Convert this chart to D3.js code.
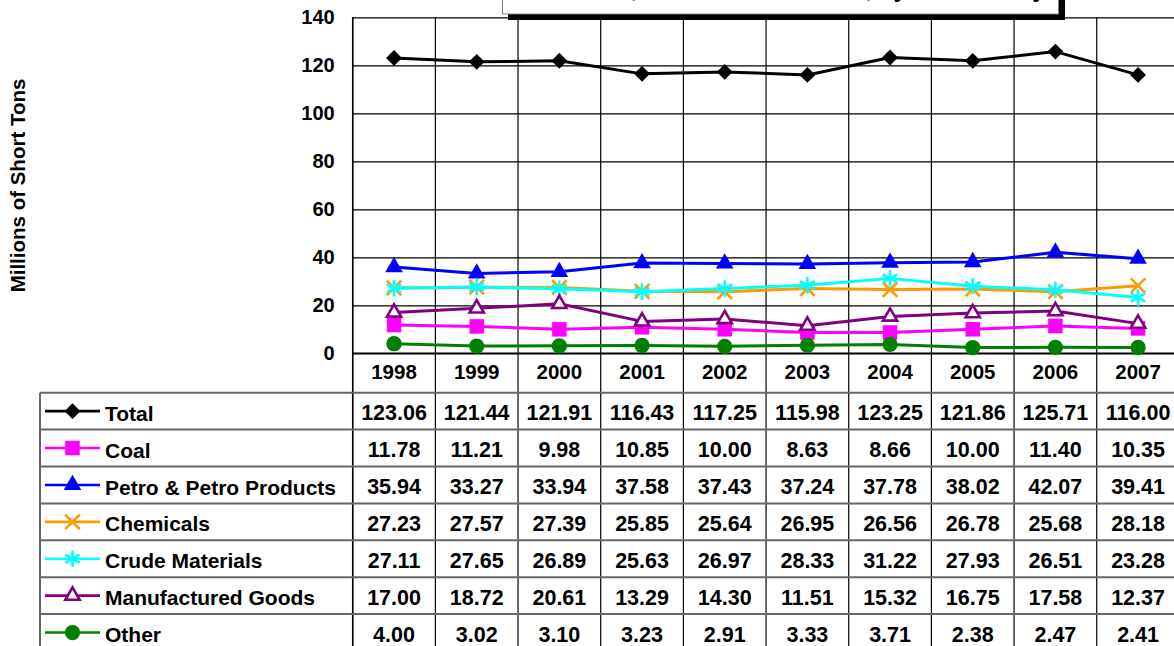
<!DOCTYPE html>
<html>
<head>
<meta charset="utf-8">
<script src="https://cdn.jsdelivr.net/npm/d3@7"></script>
<style>
  html, body { margin: 0; padding: 0; background: #fff; overflow: hidden; }
  svg { display: block; font-family: Arial, "Liberation Sans", sans-serif; font-weight: bold; }
</style>
</head>
<body>
<svg id="chart" width="1174" height="646"></svg>
<script>
// ---------------- data ----------------
const years = ["1998","1999","2000","2001","2002","2003","2004","2005","2006","2007"];
const yTicks = [0, 20, 40, 60, 80, 100, 120, 140];
const seriesNames = ["Total","Coal","Petro & Petro Products","Chemicals","Crude Materials","Manufactured Goods","Other"];
const totalVals    = [123.06,121.44,121.91,116.43,117.25,115.98,123.25,121.86,125.71,116.00];
const coalVals     = [11.78,11.21,9.98,10.85,10.00,8.63,8.66,10.00,11.40,10.35];
const petroVals    = [35.94,33.27,33.94,37.58,37.43,37.24,37.78,38.02,42.07,39.41];
const chemVals     = [27.23,27.57,27.39,25.85,25.64,26.95,26.56,26.78,25.68,28.18];
const crudeVals    = [27.11,27.65,26.89,25.63,26.97,28.33,31.22,27.93,26.51,23.28];
const manufVals    = [17.00,18.72,20.61,13.29,14.30,11.51,15.32,16.75,17.58,12.37];
const otherVals    = [4.00,3.02,3.10,3.23,2.91,3.33,3.71,2.38,2.47,2.41];
const titleText = "Total Tons, 1998 to 2007 Traffic, by Commodity";
const yLabel = "Millions of Short Tons";

// styles per series (kept separate from data)
const styles = [
  {color:"#000000", sym:d3.symbolDiamond2, size:160, fill:true},
  {color:"#FF00FF", sym:d3.symbolSquare,   size:210, fill:true},
  {color:"#0000FF", sym:d3.symbolTriangle, size:135, fill:true},
  {color:"#FF9900", sym:d3.symbolTimes,    size:140, fill:false},
  {color:"#00FFFF", sym:d3.symbolAsterisk, size:190, fill:false},
  {color:"#800080", sym:d3.symbolTriangle2,size:145, fill:false},
  {color:"#008000", sym:d3.symbolCircle,   size:185, fill:true}
];
const seriesVals = [totalVals, coalVals, petroVals, chemVals, crudeVals, manufVals, otherVals];

// ---------------- layout ----------------
const svg = d3.select("#chart");
const plotLeft = 352.7, colW = 82.67;
const plotTop = 17.3, plotBottom = 353.3;
const tableLeft = 40, headerBottom = 392.7, rowH = 36.9;
const H = 646;

const x = d3.scaleBand().domain(years).range([plotLeft, plotLeft + colW * years.length]).padding(0);
const y = d3.scaleLinear().domain([0, 140]).range([plotBottom, plotTop]);
const xc = d => x(d) + x.bandwidth() / 2;

// horizontal gridlines + y tick labels
const yAxis = d3.axisLeft(y).tickValues(yTicks).tickSize(-(colW * years.length)).tickPadding(18);
const ya = svg.append("g").attr("transform", `translate(${plotLeft},0)`).call(yAxis);
ya.select(".domain").remove();
ya.selectAll(".tick line").attr("stroke", "#000").attr("stroke-width", 1.2);
ya.selectAll(".tick text").attr("font-size", 20).attr("font-weight", "bold").attr("fill", "#000")
  .attr("font-family", "Arial, 'Liberation Sans', sans-serif");

// vertical gridlines through chart and table
const vLines = years.map(d => x(d)).concat([x.range()[1]]);
svg.append("g").selectAll("line").data(vLines).join("line")
  .attr("x1", d => d).attr("x2", d => d).attr("y1", plotTop).attr("y2", H)
  .attr("stroke", "#000").attr("stroke-width", 1.2);

// x axis line (bottom of plot)
svg.append("line").attr("x1", plotLeft).attr("x2", x.range()[1]).attr("y1", plotBottom).attr("y2", plotBottom)
  .attr("stroke", "#000").attr("stroke-width", 1.5);
// y axis line
svg.append("line").attr("x1", plotLeft).attr("x2", plotLeft).attr("y1", plotTop).attr("y2", H)
  .attr("stroke", "#000").attr("stroke-width", 1.5);

// title box (cut off at top, drawn over gridlines)
const tb = svg.append("g");
tb.append("rect").attr("x", 508).attr("y", -14).attr("width", 557).attr("height", 34).attr("fill", "#000");
tb.append("rect").attr("x", 502.5).attr("y", -20).attr("width", 556).attr("height", 34)
  .attr("fill", "#fff").attr("stroke", "#808080").attr("stroke-width", 1);
tb.append("text").attr("x", 513).attr("y", -3).attr("font-size", 24).text(titleText);

// y axis label
svg.append("text").attr("transform", `translate(25,185.5) rotate(-90)`)
  .attr("text-anchor", "middle").attr("font-size", 20.5).text(yLabel);

// ---------------- series ----------------
const line = d3.line().x((d, i) => xc(years[i])).y(d => y(d));
const sg = svg.append("g");
seriesVals.forEach((vals, si) => {
  const st = styles[si];
  const g = sg.append("g");
  g.append("path").datum(vals).attr("d", line).attr("fill", "none")
    .attr("stroke", st.color).attr("stroke-width", 3).attr("stroke-linejoin", "round");
  g.selectAll("path.m").data(vals).join("path").attr("class", "m")
    .attr("transform", (d, i) => `translate(${xc(years[i])},${y(d)})`)
    .attr("d", d3.symbol(st.sym, st.size))
    .attr("fill", st.fill ? st.color : (st.sym === d3.symbolTriangle2 ? "#fff" : "none"))
    .attr("stroke", st.color).attr("stroke-width", st.fill ? 0 : 2.6);
});

// ---------------- data table ----------------
const tg = svg.append("g");
// year header
tg.selectAll("text.yr").data(years).join("text").attr("class", "yr")
  .attr("x", d => xc(d)).attr("y", plotBottom + 26).attr("text-anchor", "middle")
  .attr("font-size", 20.5).text(d => d);

// row lines
const rowTops = seriesNames.map((n, i) => headerBottom + i * rowH);
tg.selectAll("line.row").data(rowTops.concat([headerBottom + seriesNames.length * rowH])).join("line")
  .attr("class", "row").attr("x1", tableLeft).attr("x2", 1174)
  .attr("y1", d => d).attr("y2", d => d).attr("stroke", "#666").attr("stroke-width", 2);
tg.append("line").attr("x1", tableLeft).attr("x2", tableLeft).attr("y1", headerBottom).attr("y2", H)
  .attr("stroke", "#666").attr("stroke-width", 2);

seriesNames.forEach((name, si) => {
  const top = rowTops[si];
  const st = styles[si];
  const cy = top + rowH / 2;
  // legend key
  tg.append("line").attr("x1", 45).attr("x2", 100).attr("y1", cy).attr("y2", cy)
    .attr("stroke", st.color).attr("stroke-width", 2.6);
  tg.append("path").attr("transform", `translate(72.5,${cy})`)
    .attr("d", d3.symbol(st.sym, st.size))
    .attr("fill", st.fill ? st.color : (st.sym === d3.symbolTriangle2 ? "#fff" : "none"))
    .attr("stroke", st.color).attr("stroke-width", st.fill ? 0 : 2.6);
  tg.append("text").attr("x", 105).attr("y", top + 28).attr("font-size", 21).text(name);
  // values
  tg.selectAll(null).data(seriesVals[si]).join("text")
    .attr("x", (d, i) => xc(years[i])).attr("y", top + 27.5).attr("text-anchor", "middle")
    .attr("font-size", 21.5).text(d => d.toFixed(2));
});
</script>
</body>
</html>
